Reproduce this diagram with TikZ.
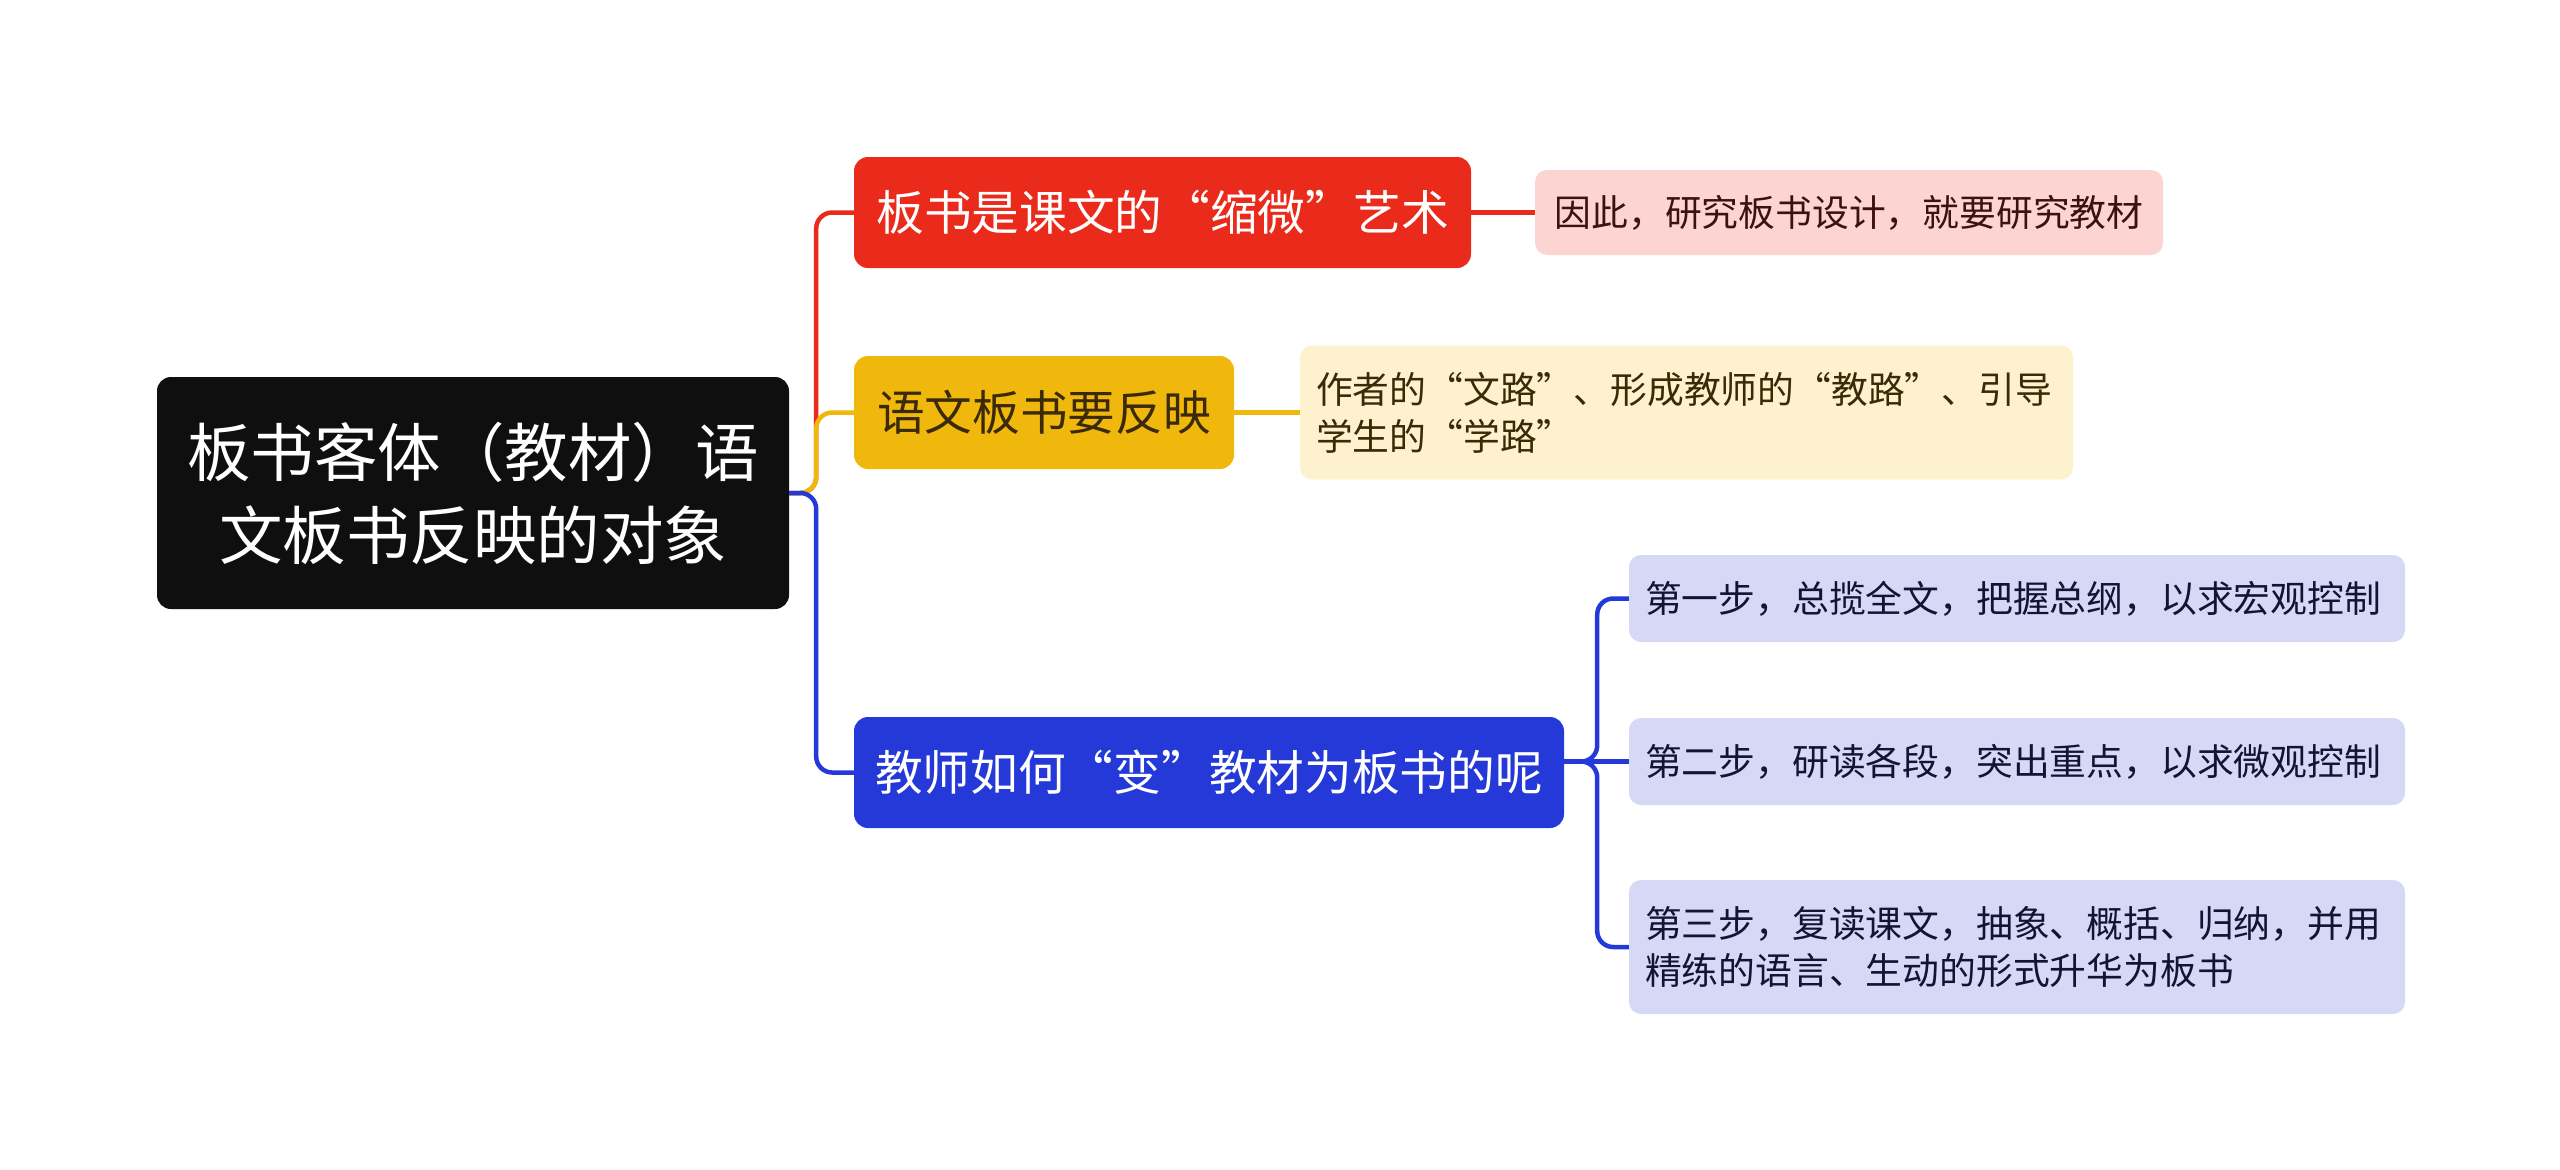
\documentclass[tikz,border=0pt]{standalone}
\usepackage{fontspec}
\setmainfont{Noto Sans CJK SC}
\definecolor{rootc}{HTML}{0F0F0F}
\definecolor{redc}{HTML}{EA2A1B}
\definecolor{yelc}{HTML}{F0B80C}
\definecolor{bluc}{HTML}{2439D8}
\definecolor{redl}{HTML}{FCD5D2}
\definecolor{yell}{HTML}{FDF1CE}
\definecolor{blul}{HTML}{D5D9F6}
\definecolor{redt}{HTML}{3F1010}
\definecolor{yelt}{HTML}{3A2A06}
\definecolor{blut}{HTML}{121436}
\tikzset{
  box/.style={rounded corners=14pt, inner ysep=0pt, anchor=center},
  mainfont/.style={font=\fontsize{47.7}{56}\selectfont},
  leaffont/.style={font=\fontsize{36.8}{47}\selectfont},
  conn/.style={line width=4.5pt, rounded corners=16pt}
}
\begin{document}
\begin{tikzpicture}[x=1pt,y=-1pt]
\useasboundingbox (0,0) rectangle (2560,1170);
% root
\node[box, fill=rootc, text=white, minimum width=632pt, minimum height=232pt, text width=600pt, inner xsep=16pt, align=center, font=\fontsize{63.5}{83}\selectfont] (root) at (473,493) {板书客体（教材）语\\文板书反映的对象};
% main branches
\node[box, fill=redc, text=white, mainfont, minimum width=617pt, minimum height=111pt, inner xsep=0pt] (r) at (1162.5,212.5) {板书是课文的“缩微”艺术};
\node[box, fill=yelc, text=yelt, mainfont, minimum width=380pt, minimum height=113pt, inner xsep=0pt] (y) at (1044,412.5) {语文板书要反映};
\node[box, fill=bluc, text=white, mainfont, minimum width=710pt, minimum height=111pt, inner xsep=0pt] (b) at (1209,772.5) {教师如何“变”教材为板书的呢};
% leaves
\node[box, rounded corners=12pt, fill=redl, text=redt, leaffont, minimum width=628pt, minimum height=85pt, inner xsep=0pt] (rl) at (1849,212.5) {因此，研究板书设计，就要研究教材};
\node[box, rounded corners=12pt, fill=yell, text=yelt, leaffont, minimum width=773pt, minimum height=134pt, text width=741pt, inner xsep=16pt, align=left] (yl) at (1686.5,412.5) {作者的“文路”、形成教师的“教路”、引导\\学生的“学路”};
\node[box, rounded corners=12pt, fill=blul, text=blut, leaffont, minimum width=776pt, minimum height=87pt, text width=744pt, inner xsep=16pt, align=left] (b1) at (2017,598.5) {第一步，总揽全文，把握总纲，以求宏观控制};
\node[box, rounded corners=12pt, fill=blul, text=blut, leaffont, minimum width=776pt, minimum height=87pt, text width=744pt, inner xsep=16pt, align=left] (b2) at (2017,761.5) {第二步，研读各段，突出重点，以求微观控制};
\node[box, rounded corners=12pt, fill=blul, text=blut, leaffont, minimum width=776pt, minimum height=134pt, text width=744pt, inner xsep=16pt, align=left] (b3) at (2017,947) {第三步，复读课文，抽象、概括、归纳，并用\\精练的语言、生动的形式升华为板书};
% connectors
\draw[conn, redc] (root.east) -- ++(27,0) |- (r.west);
\draw[conn, yelc] (root.east) -- ++(27,0) |- (y.west);
\draw[conn, bluc] (root.east) -- ++(27,0) |- (b.west);
\draw[conn, redc] (r.east) -- (rl.west);
\draw[conn, yelc] (y.east) -- (yl.west);
\draw[conn, bluc] (b.east |- b2.west) -- ++(33,0) |- (b1.west);
\draw[conn, bluc] (b.east |- b2.west) -- (b2.west);
\draw[conn, bluc] (b.east |- b2.west) -- ++(33,0) |- (b3.west);
\end{tikzpicture}
\end{document}
